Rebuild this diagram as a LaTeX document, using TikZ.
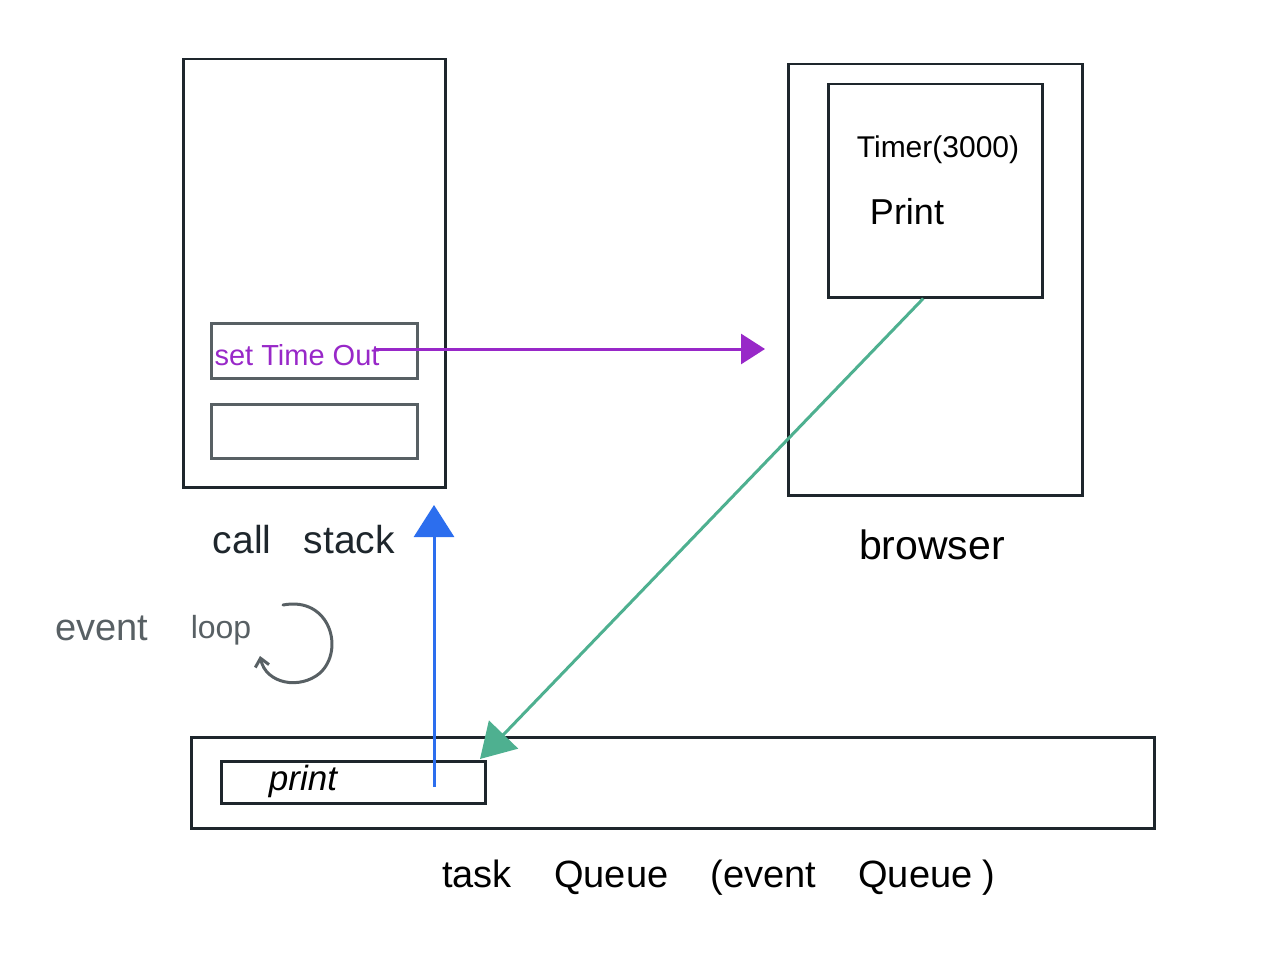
\documentclass[tikz,border=0pt]{standalone}
\usepackage{fontspec}
\setmainfont{Liberation Sans}
\usetikzlibrary{arrows.meta}
\definecolor{myDark}{RGB}{30, 38, 44}
\definecolor{myGrey}{RGB}{88, 96, 100}
\definecolor{myPurple}{RGB}{152, 40, 200}
\definecolor{myBlue}{RGB}{44, 110, 238}
\definecolor{myGreen}{RGB}{78, 176, 144}
\tikzset{
  outerbox/.style = {draw = myDark, line width = 2.5pt},
  innerbox/.style = {draw = myGrey, line width = 3pt},
  hand/.style = {inner sep = 0pt, anchor = center},
}
\newcommand{\tikzbox}[6]{\node [#1, minimum width = #4, minimum height = #5, anchor = north west] (#2) at #3 {}; #6}

\begin{document}
\begin{tikzpicture}[x = 1pt, y = -1pt]   % Pixelkoordinaten, y nach unten
  % Bounding box
  \useasboundingbox (0, 0) rectangle (1280, 974);
  % call stack links
  \tikzbox{outerbox}{stack}{(182, 58)}{262pt}{428pt}{}
  \tikzbox{innerbox}{stacktop}{(210, 322)}{206pt}{55pt}{}
  \tikzbox{innerbox}{stacklow}{(210, 403)}{206pt}{54pt}{}
  \node [hand, text = myPurple, font = \fontsize{29}{33}\selectfont] (settext) at (297, 355) {set Time Out};
  \node [hand, text = myDark, font = \fontsize{39}{44}\selectfont] (stacklabel) at (304, 540) {call\ \ \ stack};
  % browser rechts
  \tikzbox{outerbox}{browser}{(787, 63)}{294pt}{431pt}{}
  \tikzbox{outerbox}{timerbox}{(827, 83)}{214pt}{213pt}{}
  \node [hand, font = \fontsize{30}{34}\selectfont] (timer) at (938, 150) {Timer(3000)};
  \node [hand, font = \fontsize{36}{40}\selectfont] (timerprint) at (907, 212) {Print};
  \node [hand, font = \fontsize{41}{46}\selectfont] (browserlabel) at (932, 545) {browser};
  % task queue unten
  \tikzbox{outerbox}{queue}{(190, 736)}{963pt}{91pt}{}
  \tikzbox{outerbox}{printbox}{(220, 760)}{264pt}{42pt}{}
  \node [hand, font = \itshape\fontsize{35}{40}\selectfont] (print) at (303, 781) {print};
  \node [hand, font = \fontsize{38}{43}\selectfont] (queuelabel) at (719, 878) {task\ \ \ \ Queue\ \ \ \ (event\ \ \ \ Queue\ )};
  % event loop
  \node [hand, text = myGrey, font = \fontsize{38}{43}\selectfont] (eventlabel) at (102, 628) {event};
  \node [hand, text = myGrey, font = \fontsize{32}{36}\selectfont] (looplabel) at (221, 630) {loop};
  \draw [myGrey, line width = 3pt, line cap = round, -{Straight Barb[length = 8pt, width = 14pt]}]
    (283, 605) .. controls (330, 596) and (345, 650) .. (320, 673)
               .. controls (300, 690) and (266, 684) .. (260, 656);
  % Pfeile
  \coordinate (browserin) at (765, 349);
  \draw [myPurple, line width = 3pt, -{Triangle[length = 24pt, width = 30pt]}]
    (settext.east) ++(-4, -6) -- (browserin);
  \coordinate (printup) at (434, 787);
  \coordinate (stackin) at (434, 505);
  \draw [myBlue, line width = 3pt, -{Triangle[length = 32pt, width = 40pt]}] (printup) -- (stackin);
  \coordinate (queuein) at (480, 759);
  \draw [myGreen, line width = 3pt, -{Triangle[length = 34pt, width = 40pt]}]
    (timerbox.south) ++(-12, 0) -- (queuein);
\end{tikzpicture}
\end{document}
